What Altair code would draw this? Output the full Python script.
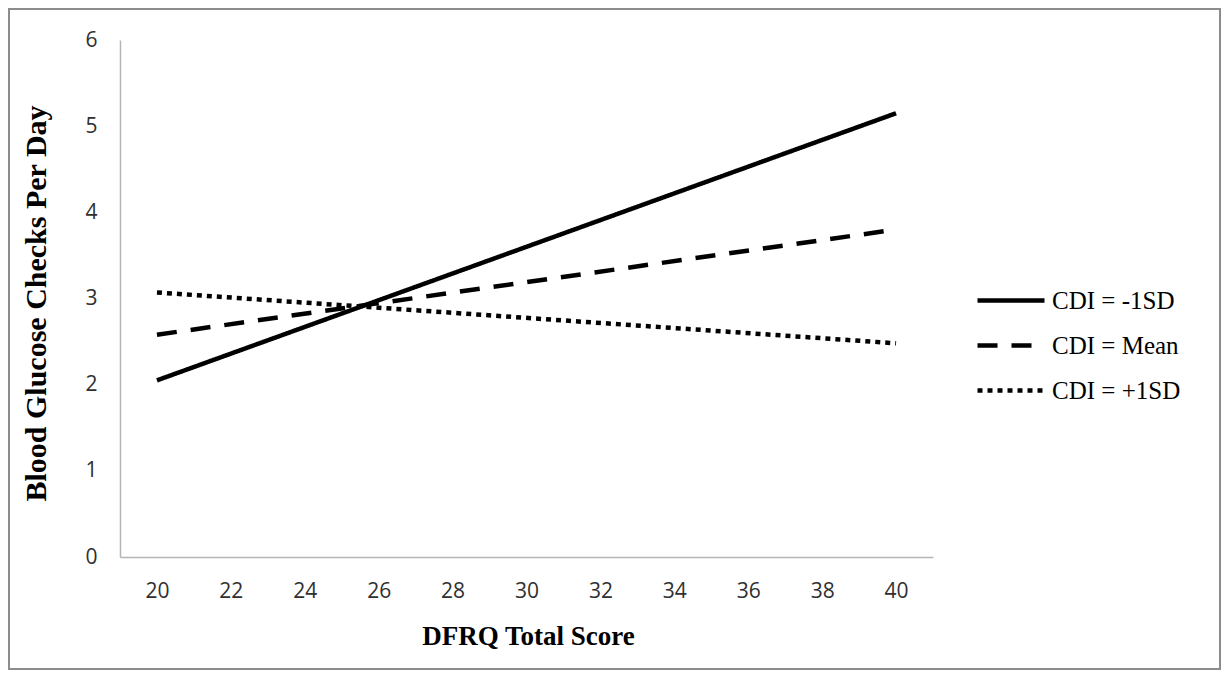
import altair as alt
import pandas as pd

# ---- data ----
scores = [20, 40]
series_names = ["CDI = -1SD", "CDI = Mean", "CDI = +1SD"]
minus_1sd = [2.05, 5.15]
mean_cdi = [2.58, 3.80]
plus_1sd = [3.07, 2.48]
x_ticks = [20, 22, 24, 26, 28, 30, 32, 34, 36, 38, 40]
y_ticks = [0, 1, 2, 3, 4, 5, 6]

rows = []
for name, vals in zip(series_names, [minus_1sd, mean_cdi, plus_1sd]):
    for s, v in zip(scores, vals):
        rows.append({"score": s, "value": v, "series": name})
df = pd.DataFrame(rows)

W, H = 813, 517

lines = alt.Chart(df).mark_line(color="black", strokeWidth=4.5, strokeCap="butt").encode(
    x=alt.X(
        "score:Q",
        scale=alt.Scale(domain=[19, 41], nice=False, zero=False),
        axis=alt.Axis(
            values=x_ticks, title="DFRQ Total Score", grid=False, ticks=False, tickSize=0,
            domainColor="#b5b5b5", domainWidth=1.5,
            labelFont="Open Sans", labelFontSize=21, labelColor="#303030", labelPadding=23,
            titleFont="Liberation Serif", titleFontWeight="bold", titleFontSize=27, titleColor="black",
            titleX=408, titleY=79, titleBaseline="middle", titleAlign="center",
        ),
    ),
    y=alt.Y(
        "value:Q",
        scale=alt.Scale(domain=[0, 6], nice=False),
        axis=alt.Axis(
            values=y_ticks, title="Blood Glucose Checks Per Day", grid=False, ticks=False, tickSize=0,
            domainColor="#b5b5b5", domainWidth=1.5,
            labelFont="Open Sans", labelFontSize=21, labelColor="#303030", labelPadding=23,
            titleFont="Liberation Serif", titleFontWeight="bold", titleFontSize=30, titleColor="black",
            titleX=-84, titleY=263, titleBaseline="middle", titleAlign="center", titleAngle=-90,
        ),
    ),
    strokeDash=alt.StrokeDash(
        "series:N",
        scale=alt.Scale(domain=series_names, range=[[1, 0], [20, 14], [5, 5]]),
        legend=alt.Legend(
            title=None, orient="none", legendX=855, legendY=238, padding=0,
            symbolType="stroke", symbolSize=4489, symbolStrokeWidth=4.5, symbolStrokeColor="black",
            labelFont="Liberation Serif", labelFontSize=25, labelColor="black", labelOffset=5,
            clipHeight=45, rowPadding=0,
        ),
    ),
)

border = alt.Chart(df).mark_rect(filled=False, stroke="#8c8c8c", strokeWidth=2).encode(
    x=alt.value(-111), x2=alt.value(1100), y=alt.value(-31), y2=alt.value(629)
)

chart = alt.layer(border, lines).properties(
    width=W, height=H,
    background="white",
    autosize=alt.AutoSizeParams(type="none"),
    padding={"left": 112, "top": 32, "right": 290, "bottom": 114},
).configure_view(strokeWidth=0, stroke="transparent")

chart.save("out.html", embed_options={"renderer": "svg", "actions": False})
